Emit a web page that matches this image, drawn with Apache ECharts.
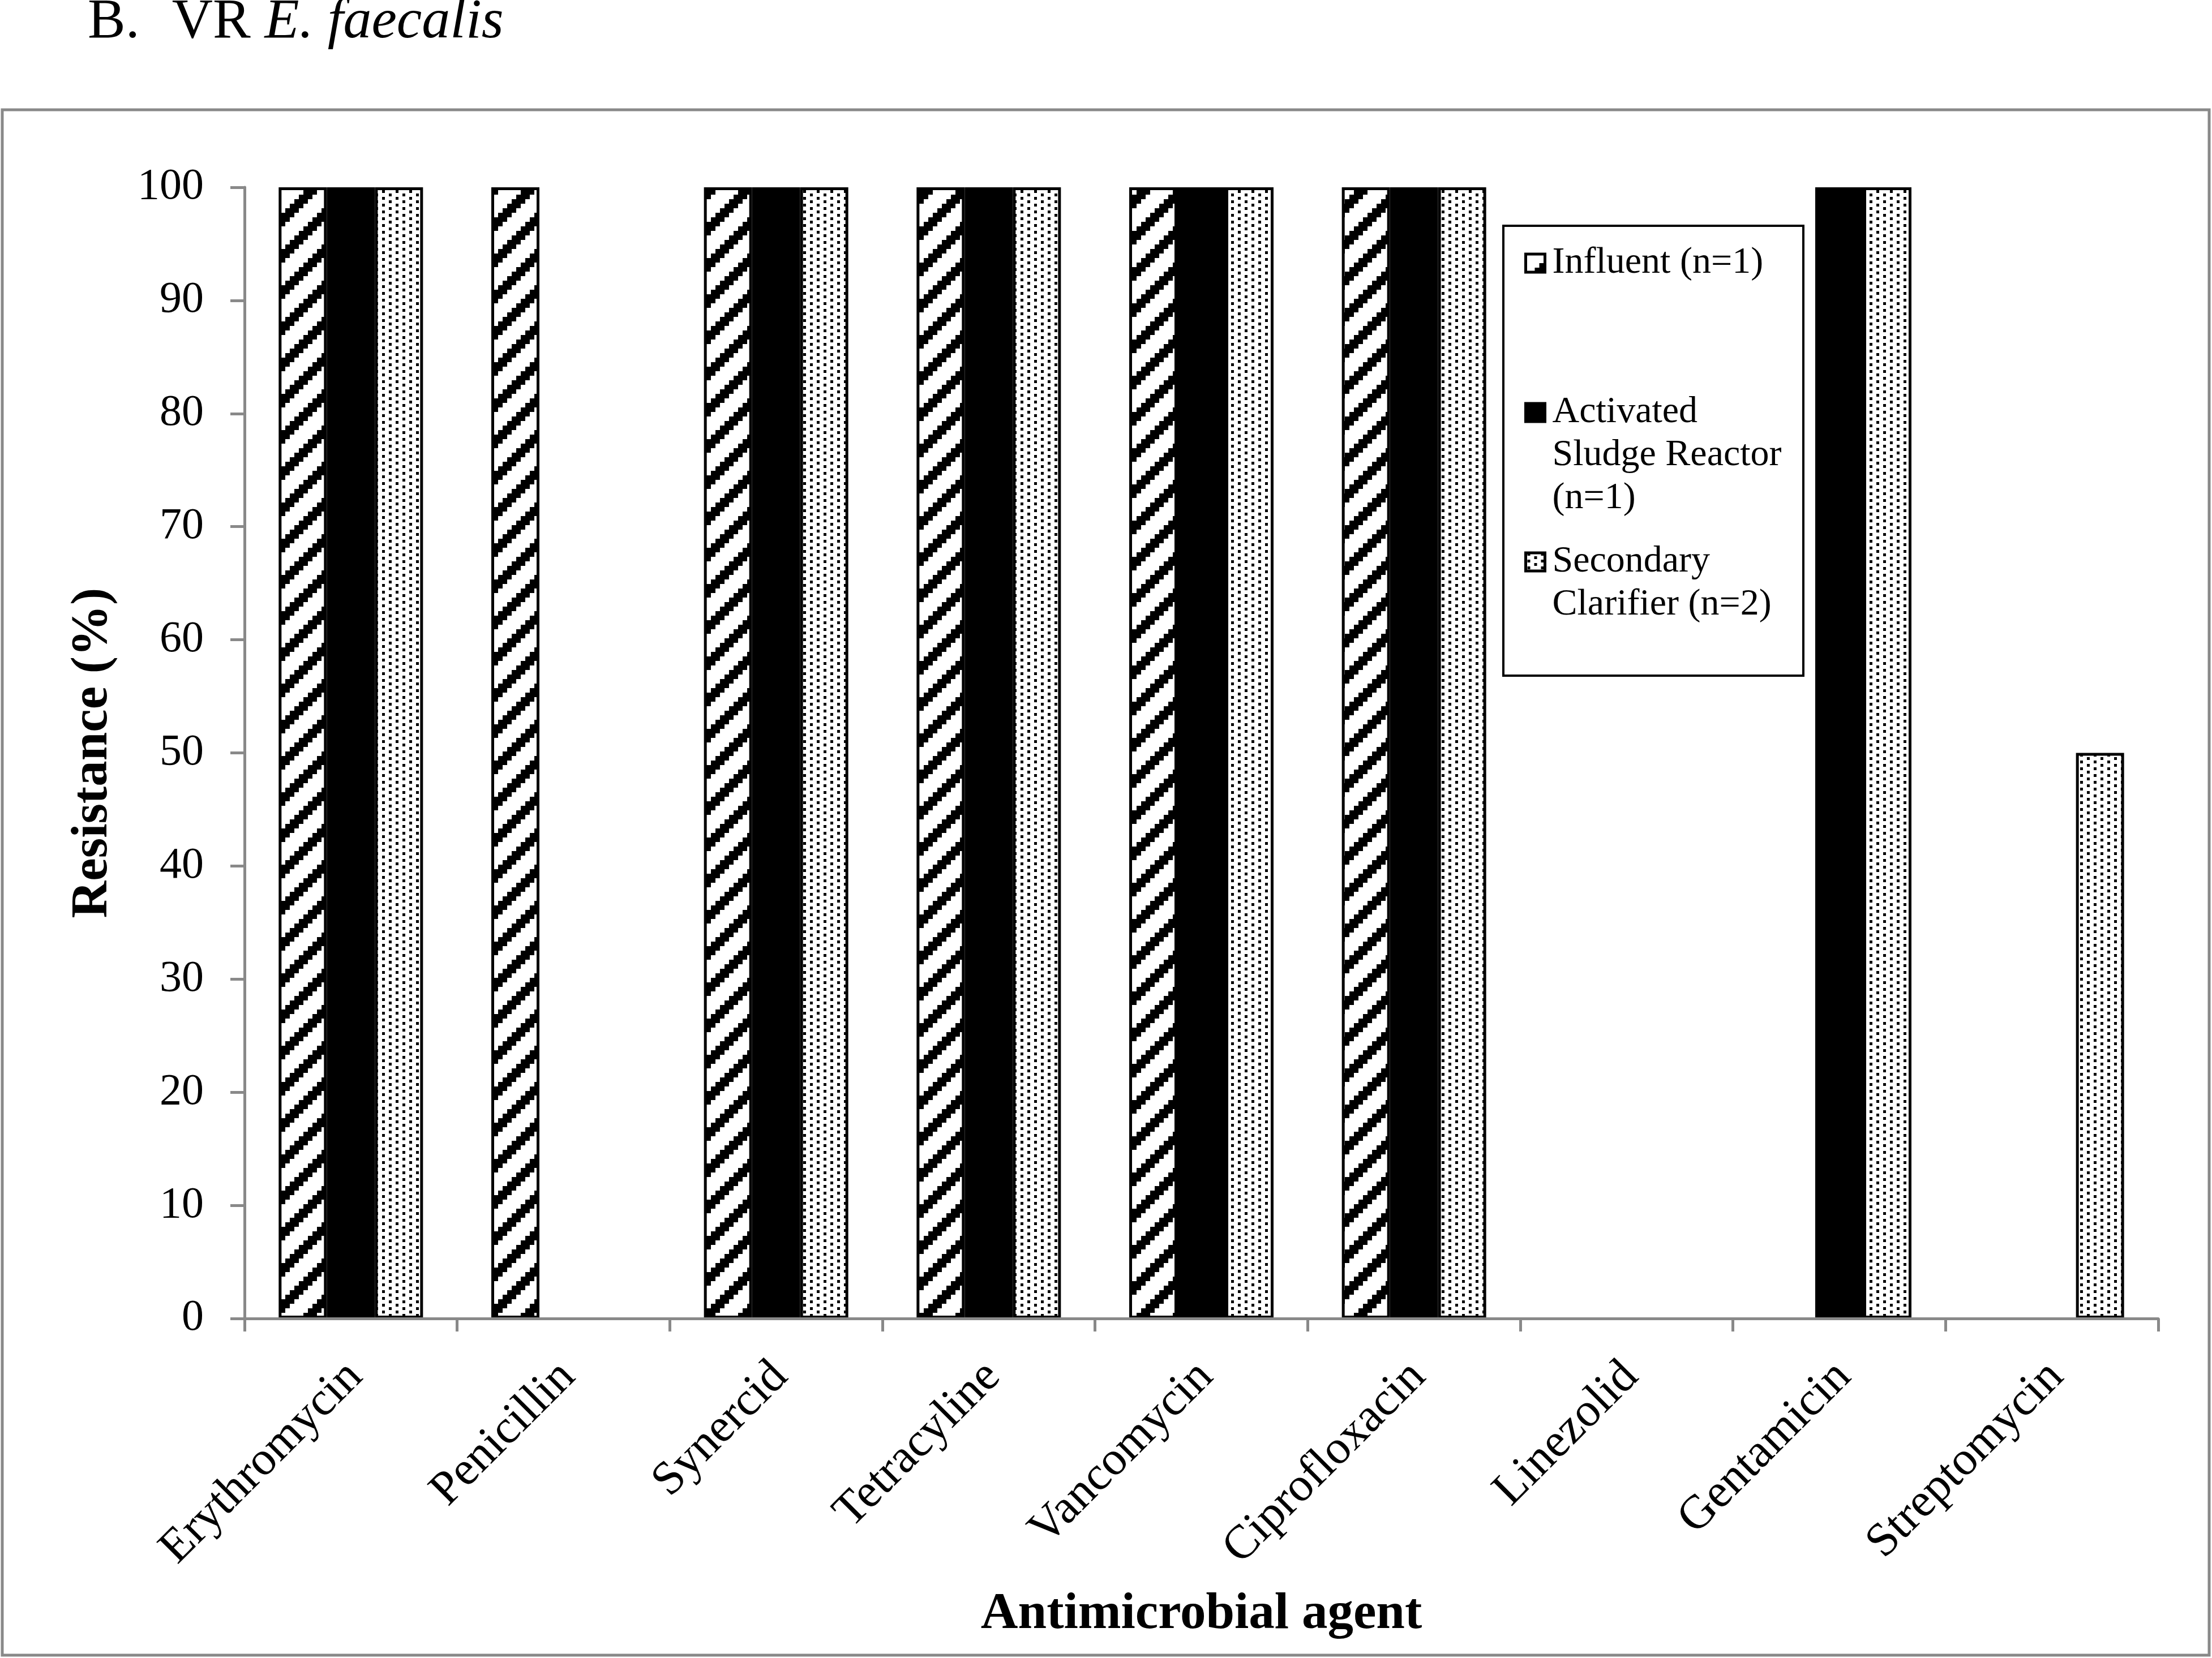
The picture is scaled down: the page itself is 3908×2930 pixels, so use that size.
<!DOCTYPE html>
<html><head><meta charset="utf-8">
<script src="https://cdn.jsdelivr.net/npm/echarts@6/dist/echarts.min.js"></script>
<style>html,body{margin:0;padding:0;background:#fff}#chart{width:3908px;height:2930px}</style>
</head><body><div id="chart"></div>
<script>
// ---- data ----
const categories = ['Erythromycin','Penicillin','Synercid','Tetracyline','Vancomycin','Ciprofloxacin','Linezolid','Gentamicin','Streptomycin'];
const seriesNames = ['Influent (n=1)','Activated Sludge Reactor (n=1)','Secondary Clarifier (n=2)'];
const legendLabels = ['Influent (n=1)','\n\nActivated\nSludge Reactor\n(n=1)','\nSecondary\nClarifier (n=2)'];
const influent = [100,100,100,100,100,100,0,0,0];
const activatedSludge = [100,0,100,100,100,100,0,100,0];
const secondaryClarifier = [100,0,100,100,100,100,0,100,50];
const yMin = 0, yMax = 100, yStep = 10;
const titleParts = ['B.', 'VR', 'E. faecalis'];
const yAxisTitle = 'Resistance (%)';
const xAxisTitle = 'Antimicrobial agent';

// ---- patterns ----
function stripePattern(){
  const c = document.createElement('canvas'); c.width = 64; c.height = 64;
  const g = c.getContext('2d'); g.fillStyle = '#fff'; g.fillRect(0,0,64,64);
  g.fillStyle = '#000';
  for (let r = 0; r < 8; r++) for (let col = 0; col < 8; col++) {
    if (((col + r) % 8) >= 5) g.fillRect(col*8, r*8, 8, 8);
  }
  return c;
}
function dotPattern(){
  const c = document.createElement('canvas'); c.width = 24; c.height = 12;
  const g = c.getContext('2d'); g.fillStyle = '#fff'; g.fillRect(0,0,24,12);
  g.fillStyle = '#000';
  g.fillRect(3,0,5,5); g.fillRect(15,6,5,5);
  return c;
}
const FONT = 'Liberation Serif';
const stripe = {image: stripePattern(), repeat: 'repeat'};
const dots = {image: dotPattern(), repeat: 'repeat'};
const GRAY = '#898989';

function barData(values){
  return values.map(function(v){ return v === 0 ? {value: v, itemStyle: {borderWidth: 0}} : v; });
}

const chart = echarts.init(document.getElementById('chart'));

const legendTops = [427, 539, 879];
function makeLegend(i){
  return {
    data: [seriesNames[i]], orient: 'vertical', left: 2693, top: legendTops[i], padding: 0,
    itemWidth: 34, itemHeight: 32, icon: 'rect', selectedMode: false,
    itemStyle: {borderColor: '#000', borderWidth: 5},
    formatter: function(){ return legendLabels[i]; },
    textStyle: {fontFamily: FONT, fontSize: 66, color: '#000', lineHeight: 76,
      padding: [0, 0, 0, 8], backgroundColor: 'rgba(0,0,0,0)'}
  };
}

const option = {
  backgroundColor: '#fff',
  animation: false,
  title: {
    text: '{n|' + titleParts[0] + '}{g| }{n|' + titleParts[1] + ' }{i|' + titleParts[2] + '}',
    left: 155, top: -10, padding: 0,
    textStyle: {fontWeight: 'normal', rich: {
      n: {fontFamily: FONT, fontSize: 100, fontWeight: 'normal', color: '#000', lineHeight: 100},
      g: {width: 57, fontSize: 100, fontWeight: 'normal', lineHeight: 100},
      i: {fontFamily: FONT, fontSize: 100, fontStyle: 'italic', fontWeight: 'normal', color: '#000', lineHeight: 100}
    }}
  },
  graphic: [
    {type: 'rect', shape: {x: 4, y: 194, width: 3899, height: 2731}, style: {fill: 'none', stroke: GRAY, lineWidth: 5}, silent: true},
    {type: 'rect', shape: {x: 2656, y: 399, width: 530, height: 795}, style: {fill: 'none', stroke: '#000', lineWidth: 4}, silent: true}
  ],
  legend: [makeLegend(0), makeLegend(1), makeLegend(2)],
  grid: {left: 432, right: 95, top: 331, bottom: 600, outerBoundsMode: 'none', containLabel: false},
  xAxis: {
    type: 'category', data: categories, z: 5,
    axisLine: {show: true, lineStyle: {color: GRAY, width: 5}},
    axisTick: {show: true, length: 23, lineStyle: {color: GRAY, width: 5}},
    axisLabel: {interval: 0, rotate: 45, margin: 98, padding: [0, -11, 0, 0], fontFamily: FONT, fontSize: 84, color: '#000'},
    splitLine: {show: false},
    name: xAxisTitle, nameLocation: 'middle', nameGap: 478, nameMoveOverlap: false,
    nameTextStyle: {fontFamily: FONT, fontSize: 91, fontWeight: 'bold', color: '#000'}
  },
  yAxis: {
    type: 'value', min: yMin, max: yMax, interval: yStep, z: 5,
    axisLine: {show: true, lineStyle: {color: GRAY, width: 5}},
    axisTick: {show: true, length: 25, lineStyle: {color: GRAY, width: 5}},
    axisLabel: {margin: 72, fontFamily: FONT, fontSize: 78, color: '#000'},
    splitLine: {show: false},
    name: yAxisTitle, nameLocation: 'middle', nameRotate: 90, nameGap: 222, nameMoveOverlap: false,
    nameTextStyle: {fontFamily: FONT, fontSize: 91, fontWeight: 'bold', color: '#000'}
  },
  series: [
    {name: seriesNames[0], type: 'bar', data: barData(influent), barWidth: 85, barGap: '0%',
      itemStyle: {color: stripe, borderColor: '#000', borderWidth: 5}},
    {name: seriesNames[1], type: 'bar', data: barData(activatedSludge), barWidth: 85, barGap: '0%',
      itemStyle: {color: '#000', borderColor: '#000', borderWidth: 0}},
    {name: seriesNames[2], type: 'bar', data: barData(secondaryClarifier), barWidth: 85, barGap: '0%',
      itemStyle: {color: dots, borderColor: '#000', borderWidth: 5}}
  ]
};
chart.setOption(option);
</script>
</body></html>
